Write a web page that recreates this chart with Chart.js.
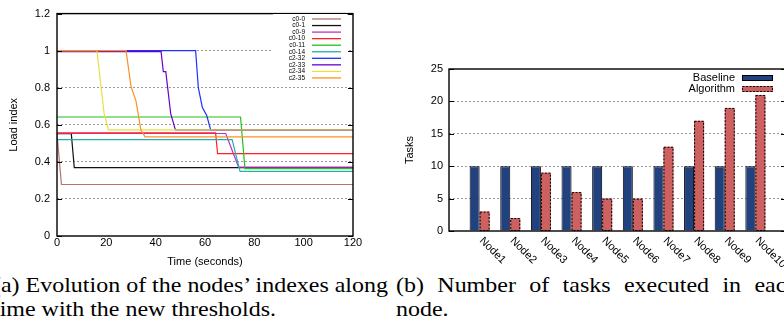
<!DOCTYPE html>
<html>
<head>
<meta charset="utf-8">
<script src="https://cdn.jsdelivr.net/npm/chart.js@4/dist/chart.umd.min.js"></script>
<style>
  body { margin: 0; width: 784px; height: 327px; overflow: hidden; position: relative; background: #fff; }
  canvas { position: absolute; top: 0; }
  .cap { position: absolute; font: 21px "Liberation Serif", "Times New Roman", serif; line-height: 24px; white-space: nowrap; color: #000; transform-origin: left top; }
</style>
</head>
<body>
<canvas id="load" width="380" height="270" style="left:0"></canvas>
<canvas id="tasks" width="420" height="270" style="left:380px"></canvas>

<div class="cap" id="a1">(a) Evolution of the nodes’ indexes along</div>
<div class="cap" id="a2">time with the new thresholds.</div>
<div class="cap" id="b1">(b) Number of tasks executed in each</div>
<div class="cap" id="b2">node.</div>

<script>
// ---- left chart: load index over time ----
const seriesNames = ['c0-0', 'c0-1', 'c0-9', 'c0-10', 'c0-11', 'c0-14', 'c2-32', 'c2-33', 'c2-34', 'c2-35'];
const seriesColors = ['#b87070', '#111111', '#c030c0', '#ff2020', '#20c020', '#20b0b0', '#2030ff', '#6a00c8', '#e8e040', '#ff9020'];

// [time (s), load index]
const c0_0 = [[0, 0.55], [1.8, 0.278], [120, 0.278]];
const c0_1 = [[0, 0.552], [5.8, 0.552], [7, 0.369], [120, 0.369]];
const c0_9 = [[0, 0.553], [68.4, 0.553], [73.6, 0.372], [120, 0.372]];
const c0_10 = [[0, 0.556], [64.3, 0.556], [65.1, 0.444], [120, 0.444]];
const c0_11 = [[0, 0.642], [74.4, 0.642], [76.2, 0.364], [120, 0.364]];
const c0_14 = [[0, 0.52], [71, 0.52], [74.2, 0.349], [120, 0.349]];
const c2_32 = [[0, 1], [56.2, 1], [57.3, 0.8], [58.9, 0.695], [60.7, 0.65], [62.3, 0.573], [120, 0.573]];
const c2_33 = [[0, 0.995], [42.2, 0.995], [43.1, 0.887], [44.1, 0.887], [46.1, 0.66], [48, 0.573], [120, 0.573]];
const c2_34 = [[0, 1], [16.2, 1], [19.1, 0.66], [20.9, 0.573], [120, 0.573]];
const c2_35 = [[0, 1], [28, 1], [30, 0.806], [32, 0.73], [34, 0.573], [35.7, 0.535], [120, 0.535]];
const seriesData = [c0_0, c0_1, c0_9, c0_10, c0_11, c0_14, c2_32, c2_33, c2_34, c2_35];

// ---- right chart: tasks per node ----
const nodes = ['Node1', 'Node2', 'Node3', 'Node4', 'Node5', 'Node6', 'Node7', 'Node8', 'Node9', 'Node10'];
const baseline = [10, 10, 10, 10, 10, 10, 10, 10, 10, 10];
const algorithm = [3, 2, 9, 6, 5, 5, 13, 17, 19, 21];

Chart.defaults.animation = false;
Chart.defaults.font.family = '"Liberation Sans", Arial, sans-serif';
Chart.defaults.font.size = 11;
Chart.defaults.color = '#000';

const GRID = '#9a9a9a';

// gnuplot style box with inward y ticks
const framePlugin = {
  id: 'frame',
  afterDatasetsDraw(chart) {
    const { ctx, chartArea: a, scales } = chart;
    ctx.save();
    ctx.strokeStyle = '#000';
    ctx.lineWidth = 1;
    scales.y.ticks.forEach(t => {
      const py = Math.round(scales.y.getPixelForValue(t.value)) + 0.5;
      ctx.beginPath();
      ctx.moveTo(a.left, py); ctx.lineTo(a.left + 5, py);
      ctx.moveTo(a.right, py); ctx.lineTo(a.right - 5, py);
      ctx.stroke();
    });
    ctx.lineWidth = 1.4;
    ctx.strokeRect(a.left, a.top, a.right - a.left, a.bottom - a.top);
    ctx.restore();
  }
};

const loadLegend = {
  id: 'loadLegend',
  afterDraw(chart) {
    const ctx = chart.ctx;
    ctx.save();
    ctx.fillStyle = '#fff';
    ctx.fillRect(273, 14, 74, 69);
    ctx.font = '6.5px "Liberation Sans", Arial, sans-serif';
    ctx.textAlign = 'right';
    ctx.textBaseline = 'middle';
    seriesNames.forEach((name, i) => {
      const y = 19 + i * 6.55;
      ctx.fillStyle = '#000';
      ctx.fillText(name, 305, y);
      ctx.strokeStyle = seriesColors[i];
      ctx.lineWidth = 1.3;
      ctx.beginPath();
      ctx.moveTo(312, y); ctx.lineTo(341, y);
      ctx.stroke();
    });
    ctx.restore();
  }
};

new Chart(document.getElementById('load'), {
  type: 'line',
  data: {
    datasets: seriesNames.map((name, i) => ({
      label: name,
      data: seriesData[i].map(p => ({ x: p[0], y: p[1] })),
      borderColor: seriesColors[i],
      borderWidth: 1.2,
      pointRadius: 0,
      tension: 0,
      order: seriesNames.length - i
    }))
  },
  options: {
    responsive: false,
    layout: { padding: { top: 13, right: 27, left: 0, bottom: 0 } },
    plugins: { legend: { display: false }, tooltip: { enabled: false } },
    scales: {
      x: {
        type: 'linear', min: 0, max: 120,
        ticks: { stepSize: 20, padding: 0 },
        grid: { display: false, drawTicks: false },
        border: { display: false },
        title: { display: true, text: 'Time (seconds)', padding: { top: 0, bottom: 1.5 } },
        afterFit: s => { s.height = 34; }
      },
      y: {
        min: 0, max: 1.2,
        ticks: { stepSize: 0.2, padding: 7, callback: v => String(+v.toFixed(1)) },
        grid: {
          drawTicks: false,
          color: c => (Math.abs(c.tick.value) < 1e-6 || Math.abs(c.tick.value - 1.2) < 1e-6) ? 'rgba(0,0,0,0)' : GRID
        },
        border: { display: false, dash: [2, 2] },
        title: { display: true, text: 'Load index', padding: { top: 7, bottom: 0 } },
        afterFit: s => { s.width = 57; }
      }
    }
  },
  plugins: [framePlugin, loadLegend]
});

// dotted outline of the algorithm bars, node labels and legend
const taskExtras = {
  id: 'taskExtras',
  afterDatasetsDraw(chart) {
    const ctx = chart.ctx;
    const meta = chart.getDatasetMeta(1);
    ctx.save();
    ctx.strokeStyle = '#000';
    ctx.lineWidth = 1;
    ctx.setLineDash([2, 1.5]);
    meta.data.forEach(el => {
      const { x, y, base, width } = el.getProps(['x', 'y', 'base', 'width'], true);
      ctx.strokeRect(x - width / 2 + 0.5, y + 0.5, width - 1, base - y - 0.5);
    });
    ctx.restore();
  },
  afterDraw(chart) {
    const { ctx, scales, chartArea } = chart;
    ctx.save();
    ctx.fillStyle = '#000';
    ctx.font = '11px "Liberation Sans", Arial, sans-serif';
    ctx.textAlign = 'left';
    ctx.textBaseline = 'middle';
    nodes.forEach((n, i) => {
      const px = scales.x.getPixelForValue(i);
      ctx.save();
      ctx.translate(px + 1.5, chartArea.bottom + 8);
      ctx.rotate(Math.PI / 4);
      ctx.fillText(n, 0, 0);
      ctx.restore();
    });
    // legend
    ctx.textAlign = 'right';
    ctx.fillText('Baseline', 355, 78);
    ctx.fillText('Algorithm', 355, 89);
    ctx.fillStyle = '#22417f';
    ctx.fillRect(362, 75, 31, 6);
    ctx.strokeStyle = '#000';
    ctx.lineWidth = 1;
    ctx.strokeRect(362.5, 75.5, 30, 5);
    ctx.fillStyle = '#cd6060';
    ctx.fillRect(362, 86, 31, 6);
    ctx.setLineDash([2, 1.5]);
    ctx.strokeRect(362.5, 86.5, 30, 5);
    ctx.restore();
  }
};

new Chart(document.getElementById('tasks'), {
  type: 'bar',
  data: {
    datasets: [
      {
        label: 'Baseline',
        data: baseline.map((v, i) => ({ x: i, y: v })),
        backgroundColor: '#22417f',
        borderColor: '#000',
        borderWidth: 1
      },
      {
        label: 'Algorithm',
        data: algorithm.map((v, i) => ({ x: i, y: v })),
        backgroundColor: '#cd6060',
        borderWidth: 0
      }
    ]
  },
  options: {
    responsive: false,
    categoryPercentage: 0.654,
    barPercentage: 1,
    layout: { padding: { top: 69, right: 14, left: 0, bottom: 0 } },
    plugins: { legend: { display: false }, tooltip: { enabled: false } },
    scales: {
      x: {
        type: 'linear', min: -1, max: 10, offset: false,
        ticks: { display: false, stepSize: 1 },
        grid: { display: false, offset: false },
        border: { display: false },
        afterFit: s => { s.height = 39; }
      },
      y: {
        min: 0, max: 25,
        ticks: { stepSize: 5, padding: 6 },
        grid: {
          drawTicks: false,
          color: c => (c.tick.value === 0 || c.tick.value === 25) ? 'rgba(0,0,0,0)' : GRID
        },
        border: { display: false, dash: [2, 2] },
        title: { display: true, text: 'Tasks', padding: { top: 23.4, bottom: 0 } },
        afterFit: s => { s.width = 69; }
      }
    }
  },
  plugins: [framePlugin, taskExtras]
});

// captions: squeeze the serif text horizontally to the column width
(function () {
  const w = id => document.getElementById(id).getBoundingClientRect().width;
  const k = 395 / w('a1');
  const extra = 395 / k - w('b1');
  if (extra > 0) document.getElementById('b1').style.wordSpacing = (extra / 5) + 'px';
  const place = (id, left, top) => {
    const el = document.getElementById(id);
    el.style.left = left + 'px';
    el.style.top = top + 'px';
    el.style.transform = 'scaleX(' + k + ')';
  };
  place('a1', -7, 273);
  place('a2', -7, 297);
  place('b1', 396, 273);
  place('b2', 396, 297);
})();
</script>
</body>
</html>
